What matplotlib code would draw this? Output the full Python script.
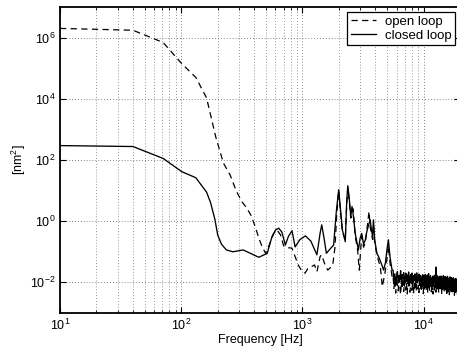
import numpy as np
import matplotlib
matplotlib.use('Agg')
import matplotlib.pyplot as plt

plt.rcParams['font.family'] = ['Liberation Sans', 'DejaVu Sans']
plt.rcParams['mathtext.fontset'] = 'custom'
plt.rcParams['mathtext.rm'] = 'Liberation Sans'

# closed loop: frequency [Hz] and log10 of PSD [nm^2]
closed_f = [10, 40, 71, 101, 132, 162, 175, 190, 200, 215,
            236, 267, 325, 372, 437, 513, 562, 603, 638, 676,
            724, 767, 822, 871, 955, 1060, 1175, 1318, 1400, 1445,
            1510, 1578, 1700, 1811, 1905, 1995, 2065, 2140, 2260, 2320,
            2370, 2430, 2510, 2570, 2630, 2730, 2820, 2900, 3000, 3090,
            3200, 3310, 3400, 3520, 3630, 3720, 3800, 3860, 3950, 4120,
            4250, 4370, 4500, 4680, 4850, 5000, 5130, 5300, 5500]
closed_log = [2.47, 2.44, 2.05, 1.62, 1.42, 0.95, 0.60, 0.05, -0.45, -0.75,
              -0.94, -1.00, -0.94, -1.05, -1.18, -1.05, -0.50, -0.28, -0.23, -0.35,
              -0.78, -0.50, -0.31, -0.84, -0.60, -0.48, -0.65, -1.10, -0.40, -0.12,
              -0.55, -1.05, -0.90, -0.78, 0.30, 1.03, 0.40, -0.29, -0.67, 0.60,
              1.16, 0.80, 0.15, 0.48, 0.20, -0.40, -0.70, -0.94, -0.55, -0.40,
              -0.75, -0.61, -0.35, -0.12, 0.04, -0.30, -0.50, 0.04, -0.60, -1.05,
              -1.15, -1.27, -1.40, -1.60, -1.35, -0.90, -0.61, -1.20, -1.60]

# open loop
open_f = [10, 40, 71, 101, 132, 162, 193, 223, 254, 284,
          315, 345, 376, 406, 437, 467, 498, 530, 580, 617,
          660, 700, 740, 780, 820, 860, 930, 1000, 1050, 1110,
          1260, 1320, 1400, 1440, 1530, 1620, 1780, 1860, 1920, 1995,
          2065, 2140, 2260, 2320, 2370, 2430, 2510, 2630, 2730, 2850,
          2950, 3020, 3090, 3200, 3310, 3470, 3550, 3630, 3800, 3860,
          3950, 4120, 4400, 4570, 4800, 5000, 5130, 5300, 5500]
open_log = [6.30, 6.24, 5.84, 5.15, 4.70, 4.03, 2.75, 1.90, 1.50, 1.00,
            0.65, 0.45, 0.20, -0.15, -0.55, -0.85, -1.05, -0.80, -0.40, -0.28,
            -0.45, -0.80, -0.87, -0.87, -0.88, -1.10, -1.45, -1.65, -1.70, -1.55,
            -1.43, -1.65, -1.16, -1.10, -1.40, -1.60, -1.45, -0.84, 0.20, 1.00,
            0.30, -0.35, -0.60, 0.50, 1.10, 0.70, 0.10, 0.40, -0.50, -0.90,
            -1.60, -1.00, -0.50, -0.85, -0.70, 0.00, 0.32, -0.20, -0.60, -0.10,
            -0.70, -1.10, -1.50, -2.14, -1.70, -1.20, -0.80, -1.40, -1.80]

# noise floor above 5.6 kHz, on the measurement grid
noise_f = np.linspace(5600, 20000, 150)
closed_noise = [
    -1.60, -1.95, -1.72, -2.10, -1.80, -1.65, -2.02, -1.78, -1.90, -1.62,
    -2.05, -1.75, -1.88, -1.68, -2.12, -1.82, -1.70, -1.98, -1.76, -1.92,
    -1.66, -2.08, -1.84, -1.74, -1.96, -1.70, -2.15, -1.86, -1.78, -1.94,
    -1.72, -2.04, -1.88, -1.69, -2.00, -1.80, -1.92, -1.73, -2.10, -1.85,
    -1.77, -1.97, -1.83, -2.06, -1.75, -1.91, -1.79, -2.18, -1.87, -1.74,
    -2.02, -1.81, -1.95, -1.76, -2.09, -1.84, -1.71, -1.99, -1.88, -2.07,
    -1.78, -1.93, -1.90, -1.86, -2.11, -1.80, -1.96, -1.83, -2.03, -1.77,
    -1.94, -1.85, -2.14, -1.50, -1.98, -1.76, -2.05, -1.89, -1.82, -2.00,
    -1.87, -2.16, -1.80, -1.95, -1.84, -2.08, -1.79, -1.97, -1.90, -2.12,
    -1.83, -2.01, -1.88, -1.78, -2.06, -1.92, -1.85, -2.19, -1.81, -1.96,
    -1.89, -2.04, -1.84, -2.13, -1.93, -1.80, -2.02, -1.87, -2.10, -1.91,
    -1.86, -2.07, -1.95, -1.82, -2.15, -1.90, -2.00, -1.84, -2.09, -1.94,
    -1.88, -2.20, -1.92, -2.03, -1.85, -2.11, -1.97, -1.89, -2.06, -1.93,
    -2.14, -1.90, -2.01, -1.87, -2.17, -1.95, -2.04, -1.91, -2.22, -1.98,
    -1.92, -2.08, -2.00, -2.18, -1.94, -2.12, -2.02, -2.25, -1.96, -2.10]
open_noise = [
    -1.75, -2.20, -1.90, -2.35, -1.82, -2.10, -2.28, -1.88, -2.15, -2.40,
    -1.95, -2.22, -1.85, -2.30, -2.05, -1.92, -2.25, -2.00, -2.38, -1.90,
    -2.12, -1.86, -2.32, -2.02, -1.94, -2.26, -2.08, -1.89, -2.36, -2.00,
    -2.18, -1.92, -2.28, -2.05, -1.87, -2.22, -2.10, -2.33, -1.96, -2.14,
    -2.03, -2.30, -1.91, -2.19, -2.06, -2.37, -1.98, -2.24, -2.01, -2.16,
    -1.93, -2.27, -2.09, -1.97, -2.34, -2.04, -2.20, -1.95, -2.29, -2.07,
    -2.13, -1.94, -2.31, -2.02, -2.23, -1.99, -2.38, -2.08, -1.96, -2.25,
    -2.05, -2.17, -1.92, -2.32, -2.10, -2.00, -2.27, -2.06, -2.21, -1.98,
    -2.35, -2.09, -2.14, -1.99, -2.28, -2.04, -2.19, -2.11, -2.39, -2.03,
    -2.16, -2.26, -2.01, -2.22, -2.12, -2.33, -2.05, -2.18, -2.09, -2.29,
    -2.02, -2.24, -2.14, -2.36, -2.07, -2.20, -2.11, -2.30, -2.04, -2.23,
    -2.15, -2.40, -2.08, -2.26, -2.13, -2.19, -2.34, -2.06, -2.28, -2.17,
    -2.10, -2.31, -2.21, -2.12, -2.37, -2.09, -2.25, -2.16, -2.42, -2.14,
    -2.27, -2.11, -2.33, -2.20, -2.08, -2.35, -2.18, -2.24, -2.13, -2.39,
    -2.19, -2.29, -2.15, -2.36, -2.22, -2.26, -2.41, -2.17, -2.31, -2.24]

f_cl = np.concatenate([closed_f, noise_f])
p_cl = 10 ** np.concatenate([closed_log, closed_noise])
f_ol = np.concatenate([open_f, noise_f])
p_ol = 10 ** np.concatenate([open_log, open_noise])

fig = plt.figure(figsize=(4.57, 3.49), dpi=100)
ax = fig.add_axes([0.1313, 0.1032, 0.8753, 0.8768])

ax.loglog(f_ol, p_ol, color='black', lw=0.9, dashes=(5, 3.5), label='open loop')
ax.loglog(f_cl, p_cl, color='black', lw=0.95, label='closed loop')

ax.set_xlim(10, 2e4)
ax.set_ylim(1e-3, 1e7)
ax.set_yticks([1e-2, 1e0, 1e2, 1e4, 1e6])
ax.yaxis.set_minor_locator(matplotlib.ticker.NullLocator())

ax.grid(True, which='major', axis='both', color='0.35', ls=(0, (1, 2.5)), lw=0.6)
ax.grid(True, which='minor', axis='x', color='0.45', ls=(0, (1, 2.5)), lw=0.6)
ax.tick_params(which='both', direction='in', top=True, right=True, labelsize=9)
ax.tick_params(which='major', length=4, width=0.8)
ax.tick_params(which='minor', length=2, width=0.6)
for s in ax.spines.values():
    s.set_linewidth(1.3)

ax.set_xlabel('Frequency [Hz]', fontsize=9, labelpad=1)
ax.set_ylabel('[nm$^2$]', fontsize=9, labelpad=1)

leg = ax.legend(loc='upper right', fontsize=9.5, fancybox=False, framealpha=1,
                edgecolor='black', borderaxespad=0.4, handlelength=1.9,
                handletextpad=0.7, labelspacing=0.15, borderpad=0.25)
leg.get_frame().set_linewidth(0.9)

fig.savefig('out.png', dpi=100)
